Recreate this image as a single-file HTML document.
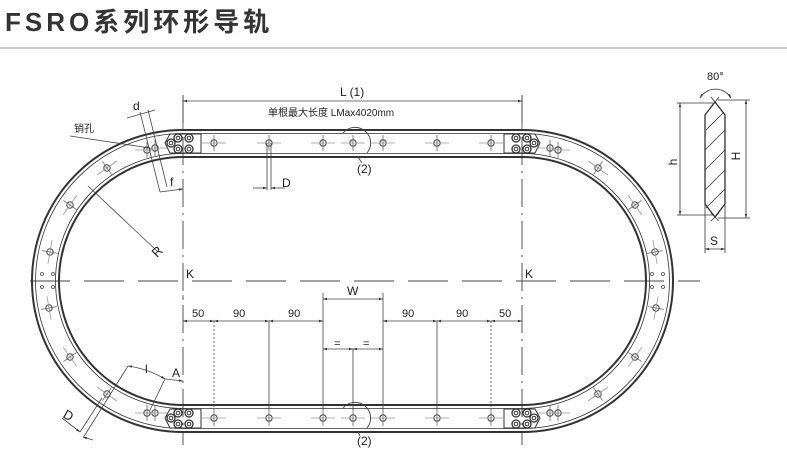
<!DOCTYPE html>
<html><head><meta charset="utf-8"><style>
body{margin:0;background:#fff;width:787px;height:463px;overflow:hidden}
svg{display:block}
text{font-family:"Liberation Sans","Noto Sans CJK SC",sans-serif;fill:#222}
</style></head><body>
<svg width="787" height="463" viewBox="0 0 787 463" xmlns="http://www.w3.org/2000/svg">
<defs>
<marker id="a" viewBox="0 0 10 10" refX="10" refY="5" markerWidth="7" markerHeight="5" orient="auto-start-reverse"><path d="M0,2L10,5L0,8z" fill="#333"/></marker>
<g id="hole"><circle r="3.2" fill="none" stroke="#444" stroke-width="1"/><line x1="-12" y1="0" x2="12" y2="0" stroke="#999" stroke-width="0.8"/><line x1="0" y1="-8" x2="0" y2="8" stroke="#666" stroke-width="0.8"/></g>
<g id="bolt"><circle r="4" fill="none" stroke="#333" stroke-width="1.3"/><circle r="1.8" fill="none" stroke="#333" stroke-width="1"/></g>
</defs>
<text x="5" y="31" font-size="26" font-weight="bold" letter-spacing="4" style="fill:#333">FSRO系列环形导轨</text>
<line x1="0" y1="48" x2="787" y2="48" stroke="#999" stroke-width="1"/>

<!-- centre lines -->
<g stroke="#444" stroke-width="0.9" stroke-dasharray="28,6,2,6" fill="none">
<line x1="183" y1="95" x2="183" y2="445"/>
<line x1="522" y1="95" x2="522" y2="445"/>
<line x1="30" y1="281" x2="700" y2="281" stroke-dasharray="40,14"/>
</g>

<!-- rails -->
<g fill="none" stroke="#333">
<path d="M183,130 H522 A151,151 0 0 1 522,432 H183 A151,151 0 0 1 183,130Z" stroke-width="2"/>
<path d="M183,133.5 H522 A147.5,147.5 0 0 1 522,428.5 H183 A147.5,147.5 0 0 1 183,133.5Z" stroke-width="0.8"/>
<path d="M183,157 H522 A124,124 0 0 1 522,405 H183 A124,124 0 0 1 183,157Z" stroke-width="2"/>
<path d="M183,153.5 H522 A127.5,127.5 0 0 1 522,408.5 H183 A127.5,127.5 0 0 1 183,153.5Z" stroke-width="0.8"/>
</g>

<!-- end plates -->
<g fill="none" stroke="#333" stroke-width="1">
<path d="M170,134 H201 V153 H170 L165,143Z"/>
<path d="M535,134 H504 V153 H535 L540,143Z"/>
<path d="M170,409 H201 V428 H170 L165,418Z"/>
<path d="M535,409 H504 V428 H535 L540,418Z"/>
</g>
<g>
<use href="#bolt" x="178" y="138"/><use href="#bolt" x="189" y="138"/><use href="#bolt" x="178" y="149"/><use href="#bolt" x="189" y="149"/><use href="#bolt" x="171" y="143"/>
<use href="#bolt" x="516" y="138"/><use href="#bolt" x="527" y="138"/><use href="#bolt" x="516" y="149"/><use href="#bolt" x="527" y="149"/><use href="#bolt" x="534" y="143"/>
<use href="#bolt" x="178" y="413"/><use href="#bolt" x="189" y="413"/><use href="#bolt" x="178" y="424"/><use href="#bolt" x="189" y="424"/><use href="#bolt" x="171" y="418"/>
<use href="#bolt" x="516" y="413"/><use href="#bolt" x="527" y="413"/><use href="#bolt" x="516" y="424"/><use href="#bolt" x="527" y="424"/><use href="#bolt" x="534" y="418"/>
</g>
<!-- straight holes -->
<g>
<use href="#hole" x="214" y="143"/><use href="#hole" x="269" y="143"/><use href="#hole" x="323" y="143"/><use href="#hole" x="353" y="143"/><use href="#hole" x="383" y="143"/><use href="#hole" x="437" y="143"/><use href="#hole" x="491" y="143"/>
<use href="#hole" x="214" y="418"/><use href="#hole" x="269" y="418"/><use href="#hole" x="323" y="418"/><use href="#hole" x="353" y="418"/><use href="#hole" x="383" y="418"/><use href="#hole" x="437" y="418"/><use href="#hole" x="491" y="418"/>
</g>
<g fill="none" stroke="#444" stroke-width="0.9">
<path d="M343,133 A14,14 0 0 1 367,153"/><path d="M343,408 A14,14 0 0 1 367,428"/>
<line x1="358" y1="157" x2="362" y2="163"/><line x1="358" y1="432" x2="360" y2="436"/>
</g>
<text x="357" y="173" font-size="12">(2)</text>
<text x="357" y="445" font-size="12">(2)</text>

<!-- arc holes -->
<g>
<use href="#hole" x="155" y="148"/><use href="#hole" x="147" y="150"/>
<use href="#hole" x="107" y="168" transform="rotate(-35 107 168)"/>
<use href="#hole" x="70" y="205" transform="rotate(-55 70 205)"/>
<use href="#hole" x="50" y="252" transform="rotate(-80 50 252)"/>
<use href="#hole" x="49" y="308" transform="rotate(80 49 308)"/>
<use href="#hole" x="70" y="357" transform="rotate(55 70 357)"/>
<use href="#hole" x="107" y="394" transform="rotate(35 107 394)"/>
<use href="#hole" x="155" y="413"/><use href="#hole" x="147" y="413"/>
<use href="#hole" x="550" y="148"/><use href="#hole" x="558" y="150"/>
<use href="#hole" x="598" y="168" transform="rotate(35 598 168)"/>
<use href="#hole" x="635" y="205" transform="rotate(55 635 205)"/>
<use href="#hole" x="655" y="252" transform="rotate(80 655 252)"/>
<use href="#hole" x="656" y="308" transform="rotate(-80 656 308)"/>
<use href="#hole" x="635" y="357" transform="rotate(-55 635 357)"/>
<use href="#hole" x="598" y="394" transform="rotate(-35 598 394)"/>
<use href="#hole" x="550" y="413"/><use href="#hole" x="558" y="413"/>
</g>
<g fill="none" stroke="#444" stroke-width="0.8">
<circle cx="42" cy="274" r="1.5"/><circle cx="53" cy="274" r="1.5"/><circle cx="42" cy="287" r="1.5"/><circle cx="53" cy="287" r="1.5"/>
<circle cx="652" cy="274" r="1.5"/><circle cx="663" cy="274" r="1.5"/><circle cx="652" cy="287" r="1.5"/><circle cx="663" cy="287" r="1.5"/>
</g>

<!-- top dims -->
<g stroke="#444" stroke-width="0.8" fill="none">
<line x1="183" y1="101" x2="522" y2="101" marker-start="url(#a)" marker-end="url(#a)"/>
<line x1="183" y1="96" x2="183" y2="130"/><line x1="522" y1="96" x2="522" y2="130"/>
<line x1="127" y1="118" x2="155" y2="110"/><line x1="140" y1="112" x2="160" y2="192"/><line x1="148" y1="110" x2="167" y2="187"/>
<line x1="160" y1="192" x2="183" y2="189" marker-end="url(#a)"/>
<line x1="70" y1="136" x2="150" y2="148"/>
<line x1="267" y1="143" x2="267" y2="190"/><line x1="271" y1="143" x2="271" y2="190"/>
<line x1="253" y1="188" x2="267" y2="188" marker-end="url(#a)"/><line x1="285" y1="188" x2="271" y2="188" marker-end="url(#a)"/>
<line x1="88" y1="186" x2="157" y2="251"/>
</g>
<text x="340" y="96" font-size="12">L (1)</text>
<text x="268" y="116" font-size="10">单根最大长度 LMax4020mm</text>
<text x="133" y="110" font-size="12">d</text>
<text x="74" y="132" font-size="10">销孔</text>
<text x="170" y="186" font-size="12">f</text>
<text x="282" y="187" font-size="12">D</text>
<text x="152" y="256" font-size="13" transform="rotate(-45 157 251)">R</text>
<text x="186" y="278" font-size="12">K</text>
<text x="525" y="278" font-size="12">K</text>

<!-- bottom dims -->
<g stroke="#444" stroke-width="0.8" fill="none">
<line x1="183" y1="321" x2="214" y2="321" marker-start="url(#a)" marker-end="url(#a)"/>
<line x1="214" y1="321" x2="269" y2="321" marker-start="url(#a)" marker-end="url(#a)"/>
<line x1="269" y1="321" x2="323" y2="321" marker-start="url(#a)" marker-end="url(#a)"/>
<line x1="383" y1="321" x2="437" y2="321" marker-start="url(#a)" marker-end="url(#a)"/>
<line x1="437" y1="321" x2="491" y2="321" marker-start="url(#a)" marker-end="url(#a)"/>
<line x1="491" y1="321" x2="522" y2="321" marker-start="url(#a)" marker-end="url(#a)"/>
<line x1="323" y1="299" x2="383" y2="299" marker-start="url(#a)" marker-end="url(#a)"/>
<line x1="323" y1="349" x2="353" y2="349" marker-start="url(#a)" marker-end="url(#a)"/>
<line x1="353" y1="349" x2="383" y2="349" marker-start="url(#a)" marker-end="url(#a)"/>
<line x1="214" y1="321" x2="214" y2="410" stroke-dasharray="2,2"/>
<line x1="269" y1="321" x2="269" y2="410"/><line x1="323" y1="293" x2="323" y2="410"/>
<line x1="383" y1="293" x2="383" y2="410"/><line x1="353" y1="349" x2="353" y2="410"/>
<line x1="437" y1="321" x2="437" y2="410"/><line x1="491" y1="321" x2="491" y2="410" stroke-dasharray="2,2"/>
<line x1="183" y1="295" x2="183" y2="300"/>
<path d="M128,366 A100,100 0 0 1 165,379" marker-start="url(#a)" marker-end="url(#a)"/>
<line x1="128" y1="366" x2="83" y2="438"/><line x1="165" y1="379" x2="150" y2="410"/>
<line x1="165" y1="379" x2="183" y2="381" marker-end="url(#a)"/>
<line x1="102" y1="398" x2="80" y2="432"/>
<line x1="62" y1="418" x2="80" y2="432" marker-end="url(#a)"/><line x1="93" y1="440" x2="83" y2="437" marker-end="url(#a)"/>
</g>
<text x="192" y="317" font-size="11">50</text>
<text x="233" y="317" font-size="11">90</text>
<text x="288" y="317" font-size="11">90</text>
<text x="402" y="317" font-size="11">90</text>
<text x="456" y="317" font-size="11">90</text>
<text x="499" y="317" font-size="11">50</text>
<text x="347" y="295" font-size="12">W</text>
<text x="334" y="347" font-size="11">=</text>
<text x="363" y="347" font-size="11">=</text>
<text x="145" y="373" font-size="12">l</text>
<text x="172" y="377" font-size="12">A</text>
<text x="64" y="420" font-size="13" transform="rotate(30 69 415)">D</text>

<!-- profile -->
<g fill="none" stroke="#333" stroke-width="1">
<path d="M705,115 L715,102 L725,115 V204 L715,217 L705,204Z" stroke-width="1.3"/>
<g stroke-width="0.8">
<line x1="706" y1="130" x2="724" y2="112"/><line x1="705" y1="150" x2="725" y2="130"/><line x1="705" y1="170" x2="725" y2="150"/>
<line x1="705" y1="190" x2="725" y2="170"/><line x1="706" y1="208" x2="725" y2="189"/>
<line x1="677" y1="103" x2="713" y2="103"/><line x1="677" y1="215" x2="713" y2="215"/>
<line x1="680" y1="103" x2="680" y2="215" marker-start="url(#a)" marker-end="url(#a)"/>
<line x1="718" y1="100" x2="750" y2="100"/><line x1="718" y1="218" x2="750" y2="218"/>
<line x1="746" y1="100" x2="746" y2="218" marker-start="url(#a)" marker-end="url(#a)"/>
<line x1="705" y1="205" x2="705" y2="253"/><line x1="725" y1="205" x2="725" y2="253"/>
<line x1="705" y1="249" x2="725" y2="249" marker-start="url(#a)" marker-end="url(#a)"/>
<line x1="711" y1="97" x2="719" y2="107"/><line x1="719" y1="97" x2="711" y2="107"/>
<line x1="711" y1="213" x2="719" y2="221"/><line x1="719" y1="213" x2="711" y2="221"/>
<path d="M700,98 A18,18 0 0 1 731,98" marker-start="url(#a)" marker-end="url(#a)"/>
</g>
</g>
<text x="707" y="80" font-size="11">80°</text>
<text x="677" y="162" font-size="12" transform="rotate(-90 677 162)" text-anchor="middle">h</text>
<text x="744" y="160" font-size="12" transform="rotate(-90 740 160)" text-anchor="middle">H</text>
<text x="710" y="245" font-size="12">S</text>
</svg>
</body></html>
